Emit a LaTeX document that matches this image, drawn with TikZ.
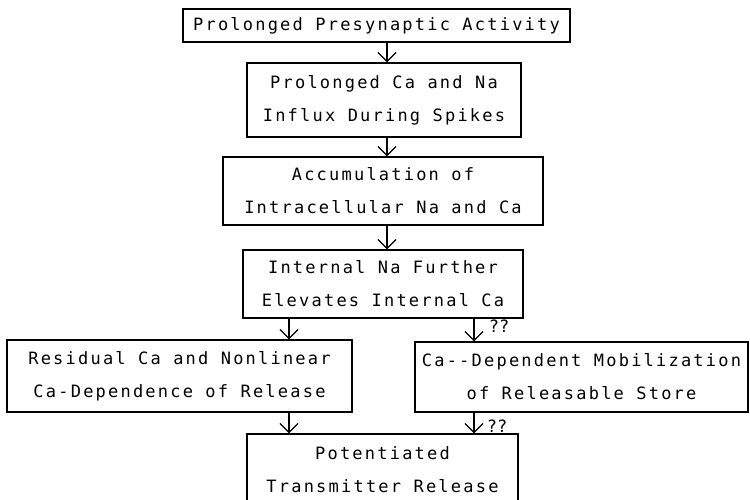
\documentclass[tikz,border=0pt]{standalone}
\usepackage{fontspec}
\usepackage{tikz}
\usetikzlibrary{arrows.meta}
\newfontfamily\plotfont[LetterSpace=13]{DejaVu Sans Mono}
\newfontfamily\markfont{DejaVu Sans Mono}

\begin{document}
\begin{tikzpicture}[x=1pt, y=-1pt,
    every node/.style={font=\plotfont\fontsize{17}{33}\selectfont, align=center},
    box/.style={draw, line width=1.3pt, inner sep=0pt},
    qmark/.style={font=\markfont\fontsize{17}{20}\selectfont, inner sep=0pt},
    arr/.style={line width=1.3pt, -{Straight Barb[length=9pt, width=18pt, line width=1.3pt]}}]
  \useasboundingbox (0,0) rectangle (750,499);

  % Arrow columns
  \coordinate (colM) at (387,0);
  \coordinate (colL) at (289,0);
  \coordinate (colR) at (474,0);

  % Boxes
  \node[box, minimum width=387pt, minimum height=33pt] (act) at (376.5,25.5) {Prolonged Presynaptic Activity};
  \node[box, minimum width=274pt, minimum height=74pt] (influx) at (384,100) {Prolonged Ca and Na\\Influx During Spikes};
  \node[box, minimum width=320pt, minimum height=68pt] (accum) at (383,191) {Accumulation of\\Intracellular Na and Ca};
  \node[box, minimum width=280pt, minimum height=68pt] (internal) at (383,284) {Internal Na Further\\Elevates Internal Ca};
  \node[box, minimum width=345pt, minimum height=72pt] (residual) at (179.5,376) {Residual Ca and Nonlinear\\Ca-Dependence of Release};
  \node[box, minimum width=333pt, minimum height=70pt] (mobil) at (581.5,377) {Ca-{}-Dependent Mobilization\\of Releasable Store};
  \node[box, minimum width=271pt, minimum height=72pt] (release) at (382.5,470) {Potentiated\\Transmitter Release};

  % Arrows
  \draw[arr] (act.south -| colM) -- (influx.north -| colM);
  \draw[arr] (influx.south -| colM) -- (accum.north -| colM);
  \draw[arr] (accum.south -| colM) -- (internal.north -| colM);
  \draw[arr] (internal.south -| colL) -- (residual.north -| colL);
  \draw[arr] (internal.south -| colR) -- (mobil.north -| colR);
  \draw[arr] (residual.south -| colL) -- (release.north -| colL);
  \draw[arr] (mobil.south -| colR) -- (release.north -| colR);

  % Question marks
  \node[qmark] (q1) at (499,326) {??};
  \node[qmark] (q2) at (497,426) {??};
\end{tikzpicture}
\end{document}
